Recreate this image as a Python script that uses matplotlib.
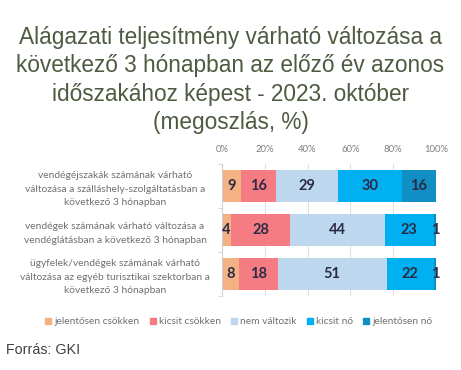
import matplotlib
matplotlib.use("Agg")
import matplotlib.pyplot as plt
import numpy as np

categories = [
    "vendégéjszakák számának várható\nváltozása a szálláshely-szolgáltatásban a\nkövetkező 3 hónapban",
    "vendégek számának várható változása a\nvendéglátásban a következő 3 hónapban",
    "ügyfelek/vendégek számának várható\nváltozása az egyéb turisztikai szektorban a\nkövetkező 3 hónapban",
]
series_names = ["jelentősen csökken", "kicsit csökken", "nem változik", "kicsit nő", "jelentősen nő"]
values = {
    "jelentősen csökken": [9, 4, 8],
    "kicsit csökken": [16, 28, 18],
    "nem változik": [29, 44, 51],
    "kicsit nő": [30, 23, 22],
    "jelentősen nő": [16, 1, 1],
}
colors = ["#F4B183", "#F47C82", "#BDD7EE", "#00B0F0", "#0F8FC4"]
tick_labels = ["0%", "20%", "40%", "60%", "80%", "100%"]

fig = plt.figure(figsize=(4.61, 3.70), dpi=100)
ax = fig.add_axes([222/461, 1-296/370, 214/461, 132/370])

y = np.arange(len(categories))
left = np.zeros(len(categories))
for name, c in zip(series_names, colors):
    v = np.array(values[name], dtype=float)
    ax.barh(y, v, left=left, height=0.74, color=c, zorder=2)
    for yi, (l, w) in enumerate(zip(left, v)):
        ax.text(l + w/2, yi, f"{int(w)}", ha="center", va="center",
                fontsize=10.5, fontweight="bold", color="#2B2B45",
                family="Lato", zorder=3)
    left += v

ax.set_xlim(0, 100)
ax.set_ylim(len(categories)-0.5, -0.5)
ax.set_xticks([0, 20, 40, 60, 80, 100])
ax.set_xticklabels(tick_labels, fontsize=6.8, color="#7F7F7F", family="Lato")
ax.xaxis.tick_top()
ax.tick_params(axis="x", length=0, pad=7)
ax.set_yticks(y)
ax.set_yticklabels(categories, fontsize=7.4, color="#707070", family="Lato",
                   ha="center", linespacing=1.65)
ax.tick_params(axis="y", which="major", length=0, pad=77)
ax.set_yticks([-0.5, 0.5, 1.5, 2.5], minor=True)
ax.tick_params(axis="y", which="minor", length=3, color="#D0D0D0")
ax.grid(axis="x", color="#E0E0E0", linewidth=0.8, zorder=0)
for s in ["top", "right", "bottom"]:
    ax.spines[s].set_visible(False)
ax.spines["left"].set_color("#D0D0D0")

fig.text(0.5, 1-80/370,
         "Alágazati teljesítmény várható változása a\nkövetkező 3 hónapban az előző év azonos\nidőszakához képest - 2023. október\n(megoszlás, %)",
         ha="center", va="center", fontsize=16.3, color="#4E5B40",
         family="Liberation Sans", linespacing=1.29)

handles = [plt.Rectangle((0, 0), 1, 1, color=c) for c in colors]
fig.legend(handles, series_names, loc="center", bbox_to_anchor=(0.518, 1-322/370),
           ncol=5, frameon=False, handlelength=0.6, handleheight=0.6,
           handletextpad=0.3, columnspacing=1.0,
           prop={"family": "Lato", "size": 7.3}, labelcolor="#707070")

fig.text(6/461, 1-350/370, "Forrás: GKI", ha="left", va="center", fontsize=10.3,
         color="#404040", family="Liberation Sans")

fig.savefig("out.png", dpi=100)
